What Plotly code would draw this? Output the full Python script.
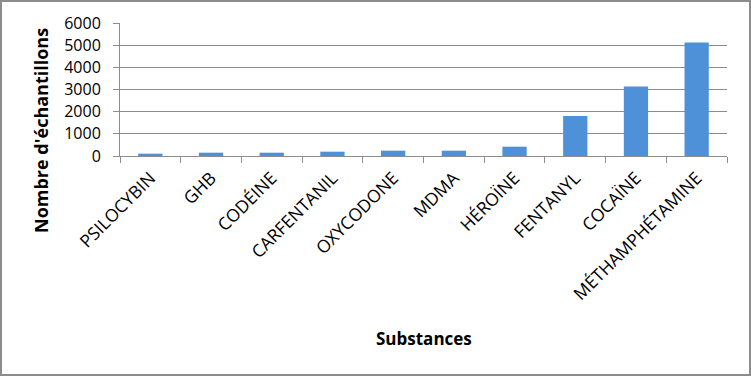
import plotly.graph_objects as go

categories = ["PSILOCYBIN", "GHB", "CODÉINE", "CARFENTANIL", "OXYCODONE",
              "MDMA", "HÉROÏNE", "FENTANYL", "COCAÏNE", "MÉTHAMPHÉTAMINE"]
values = [105, 150, 150, 195, 240, 240, 420, 1810, 3130, 5120]
y_ticks = [0, 1000, 2000, 3000, 4000, 5000, 6000]

W, H = 751, 376
ml, mr, mt, mb = 120, 24, 23, 220
pw, ph = W - ml - mr, H - mt - mb

font = "Open Sans, DejaVu Sans, sans-serif"

fig = go.Figure(go.Bar(
    x=categories, y=values,
    marker=dict(color="#4f91d9", line=dict(width=0)),
))

fig.update_layout(
    width=W, height=H,
    margin=dict(l=ml, r=mr, t=mt, b=mb, autoexpand=False),
    paper_bgcolor="white", plot_bgcolor="white",
    bargap=0.6, showlegend=False,
    font=dict(family=font, color="#000000"),
    xaxis=dict(
        tickangle=-45, tickfont=dict(size=17.5, family=font),
        showline=True, linecolor="#8c8c8c", linewidth=1,
        ticks="outside", tickson="boundaries", ticklen=6, tickcolor="#8c8c8c",
        ticklabelstandoff=4,
        showgrid=False, fixedrange=True,
    ),
    yaxis=dict(
        range=[0, 6000], tickvals=y_ticks, ticktext=[str(v) for v in y_ticks],
        tickfont=dict(size=16, family=font),
        showline=True, linecolor="#8c8c8c", linewidth=1,
        ticks="outside", ticklen=6, tickcolor="#8c8c8c",
        ticklabelstandoff=9,
        showgrid=True, gridcolor="#8c8c8c", gridwidth=1,
        zeroline=False, fixedrange=True,
    ),
    annotations=[
        dict(text="<b>Substances</b>", xref="paper", yref="paper",
             x=0.5, y=-(338 - (mt + ph)) / ph, showarrow=False,
             xanchor="center", yanchor="middle", font=dict(size=17, family=font)),
        dict(text="<b>Nombre d'échantillons</b>", xref="paper", yref="paper",
             x=-(ml - 41) / pw, y=1 - (131 - mt) / ph, showarrow=False, textangle=-90,
             xanchor="center", yanchor="middle", font=dict(size=18, family=font)),
    ],
    shapes=[
        dict(type="rect", xref="paper", yref="paper",
             x0=-(ml - 1) / pw, x1=1 + (mr - 1) / pw,
             y0=-(mb - 1) / ph, y1=1 + (mt - 1) / ph,
             line=dict(color="#8c8c8c", width=2), layer="above"),
    ],
)

fig.write_html("out.html", config={"displayModeBar": False},
               post_script="document.body.style.margin='0';")
